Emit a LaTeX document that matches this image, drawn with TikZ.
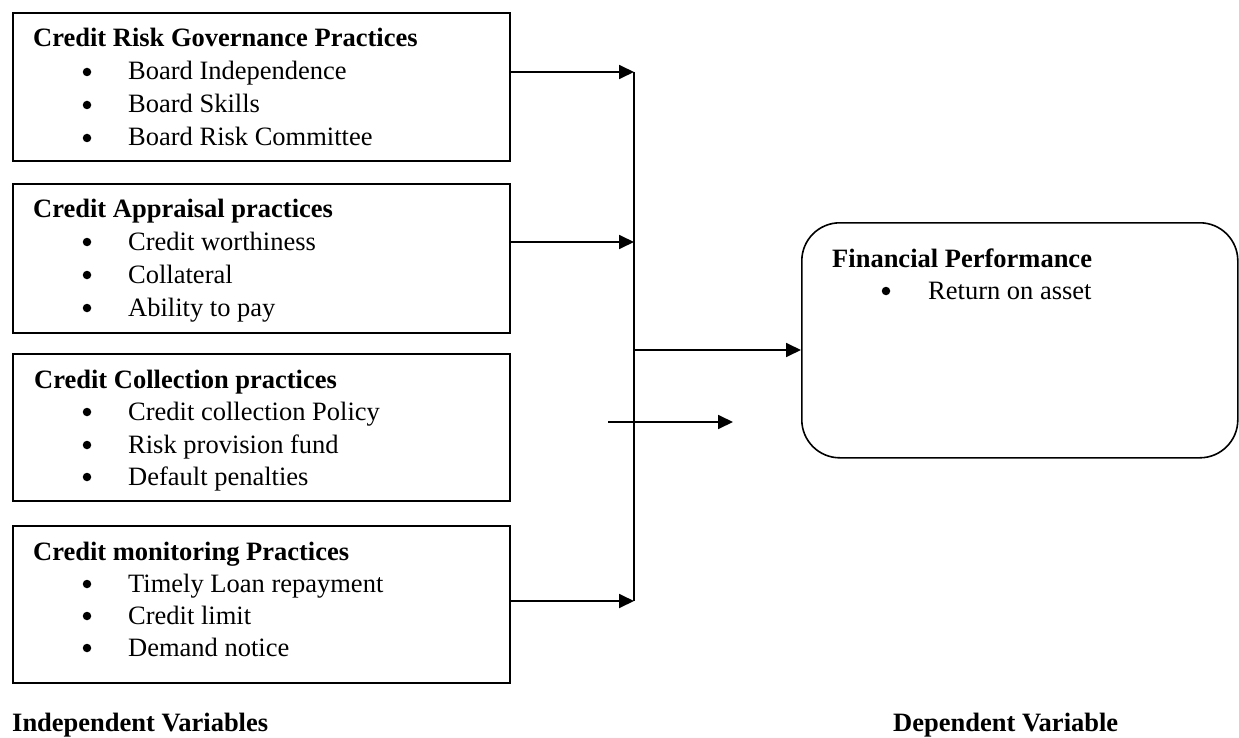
\documentclass[tikz,border=0pt]{standalone}
\usepackage{fontspec}
\setmainfont{Liberation Serif}
\usetikzlibrary{arrows.meta}
\begin{document}
\begin{tikzpicture}[x=1pt,y=-1pt,
  box/.style={draw, line width=1.6pt, anchor=north west, inner sep=0pt},
  rbox/.style={draw, line width=1.6pt, anchor=north west, inner sep=0pt, rounded corners=38pt},
  ttl/.style={anchor=base west, inner sep=0pt, font=\fontsize{26.5}{31}\selectfont\bfseries},
  itm/.style={anchor=base west, inner sep=0pt, font=\fontsize{26.5}{31}\selectfont},
  bul/.style={circle, fill=black, inner sep=0pt, minimum size=8.5pt},
  arr/.style={line width=1.8pt, -{Triangle[length=15pt,width=14pt]}},
  vline/.style={line width=1.4pt}
  ]
\useasboundingbox (0,0) rectangle (1239,738);

% Box 1
\node[box, minimum width=497pt, minimum height=148pt] (b1) at (12,12) {};
\node[ttl] (t1) at (33,47) {Credit Risk Governance Practices};
\node[bul] (p11) at (87,72) {};  \node[itm] (i11) at (128,80) {Board Independence};
\node[bul] (p12) at (87,105) {}; \node[itm] (i12) at (128,113) {Board Skills};
\node[bul] (p13) at (87,138) {}; \node[itm] (i13) at (128,146) {Board Risk Committee};

% Box 2
\node[box, minimum width=497pt, minimum height=149pt] (b2) at (12,183) {};
\node[ttl] (t2) at (33,218) {Credit Appraisal practices};
\node[bul] (p21) at (87,242) {}; \node[itm] (i21) at (128,250) {Credit worthiness};
\node[bul] (p22) at (87,275) {}; \node[itm] (i22) at (128,283) {Collateral};
\node[bul] (p23) at (87,308) {}; \node[itm] (i23) at (128,316) {Ability to pay};

% Box 3
\node[box, minimum width=497pt, minimum height=147pt] (b3) at (12,353) {};
\node[ttl] (t3) at (34,388) {Credit Collection practices};
\node[bul] (p31) at (87,412) {}; \node[itm] (i31) at (128,420) {Credit collection Policy};
\node[bul] (p32) at (87,445) {}; \node[itm] (i32) at (128,453) {Risk provision fund};
\node[bul] (p33) at (87,477) {}; \node[itm] (i33) at (128,485) {Default penalties};

% Box 4
\node[box, minimum width=497pt, minimum height=157pt] (b4) at (12,525) {};
\node[ttl] (t4) at (33,560) {Credit monitoring Practices};
\node[bul] (p41) at (87,584) {}; \node[itm] (i41) at (128,592) {Timely Loan repayment};
\node[bul] (p42) at (87,616) {}; \node[itm] (i42) at (128,624) {Credit limit};
\node[bul] (p43) at (87,648) {}; \node[itm] (i43) at (128,656) {Demand notice};

% Dependent box
\node[rbox, minimum width=436pt, minimum height=235pt] (fp) at (801,222) {};
\node[ttl] (tf) at (832,267) {Financial Performance};
\node[bul] (pf1) at (886,291) {}; \node[itm] (if1) at (928,299) {Return on asset};

% Connectors
\coordinate (j1) at (634,72);
\coordinate (j2) at (634,242);
\coordinate (j4) at (634,601);
\coordinate (jm) at (634,350);
\coordinate (fa) at (608,422);
\coordinate (fb) at (733,422);

\draw[arr] (b1.east |- j1) -- (j1);
\draw[arr] (b2.east |- j2) -- (j2);
\draw[arr] (b4.east |- j4) -- (j4);
\draw[vline] (j1) -- (j4);
\draw[arr] (jm) -- (fp.west |- jm);
\draw[arr] (fa) -- (fb);

% Labels
\node[ttl] (li) at (12,731) {Independent Variables};
\node[ttl] (ld) at (893,731) {Dependent Variable};
\end{tikzpicture}
\end{document}
